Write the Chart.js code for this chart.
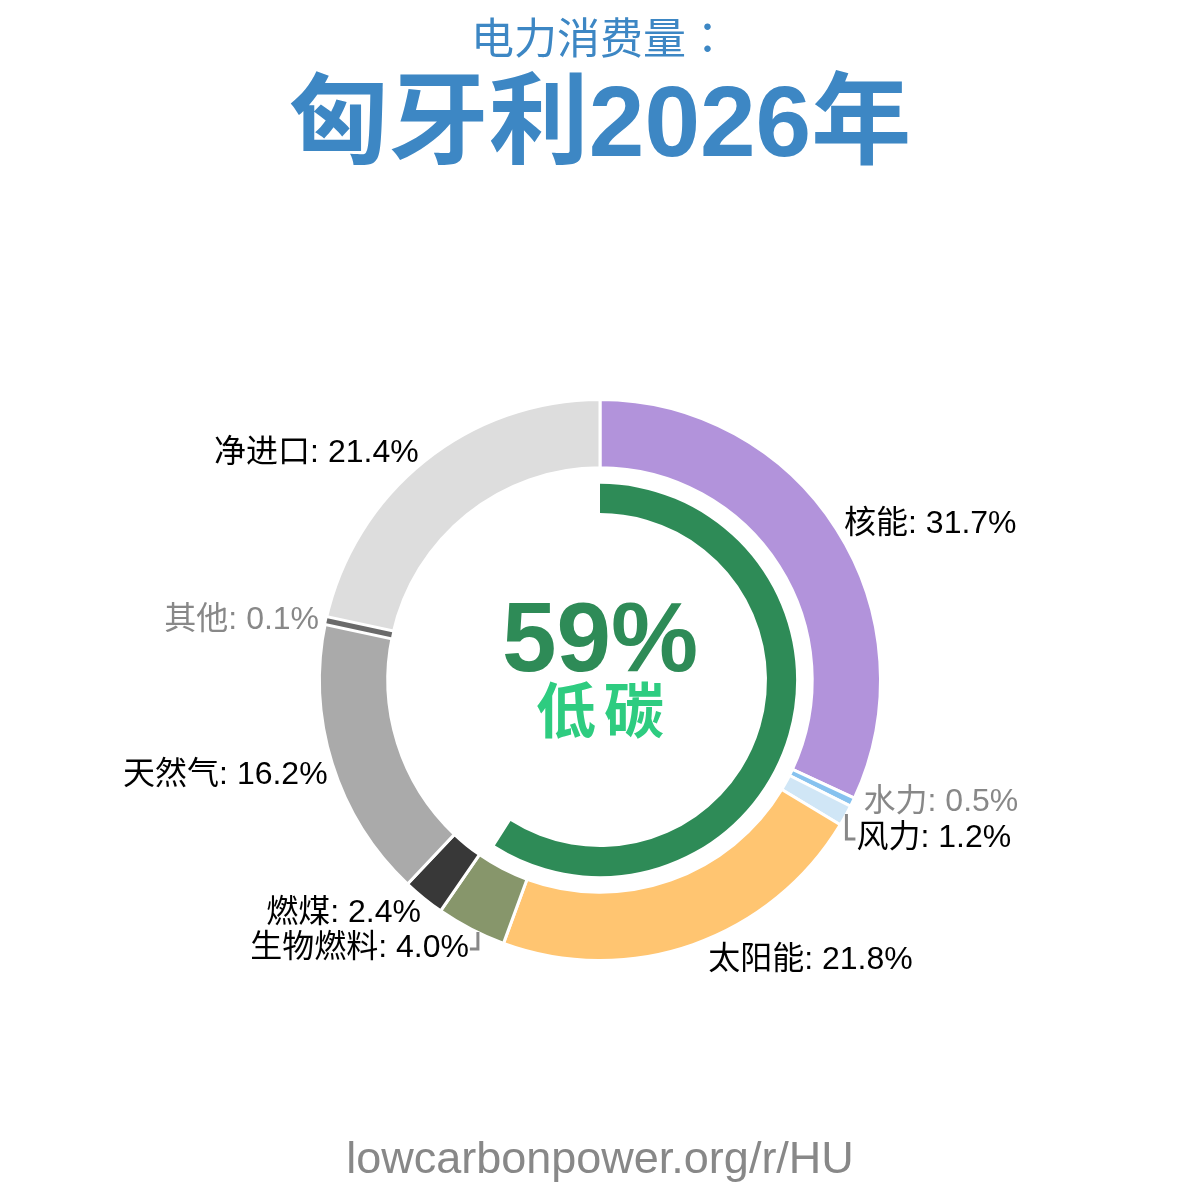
<!DOCTYPE html>
<html>
<head>
<meta charset="utf-8">
<script src="https://cdn.jsdelivr.net/npm/chart.js@4.4.1/dist/chart.umd.min.js"></script>
<style>
html,body{margin:0;padding:0;background:#fff;}
#wrap{width:1200px;height:1200px;position:relative;}
canvas{display:block;}
</style>
</head>
<body>
<div id="wrap"><canvas id="c" width="1200" height="1200"></canvas></div>
<script>
const categories = ['核能', '水力', '风力', '太阳能', '生物燃料', '燃煤', '天然气', '其他', '净进口'];
const shares = [31.7, 0.5, 1.2, 21.8, 4.0, 2.4, 16.2, 0.1, 21.4];
const sliceColors = ['#b293db', '#86c2ef', '#d0e6f6', '#ffc571', '#87966b', '#383838', '#aaaaaa', '#6a6a6a', '#dddddd'];
const lowCarbonShare = [59];
const titleSmall = '电力消费量';
const titleColon = '：';
const titleBig = '匈牙利2026年';
const centerLabel = '低碳';
const footerText = 'lowcarbonpower.org/r/HU';

const LAT = '"Liberation Sans", Arial, "Noto Sans CJK SC", sans-serif';
const CJKF = '"Noto Sans CJK SC", "Liberation Sans", sans-serif';
const CJKT = '"Noto Sans CJK TC", "Noto Sans CJK SC", sans-serif';
const labelNudgeY = [0, -4, 18, 7, 11, 8, 9, 2, -1];
const labelNudgeX = [0, 3, 3, 12, 2, 3, 4, 2, 0];
const labelBracket = [null, null, 'left', null, 'right', null, null, null, null];

const textPlugin = {
  id: 'texts',
  afterDatasetsDraw(chart) {
    const ctx = chart.ctx;
    const meta = chart.getDatasetMeta(0);
    ctx.save();
    // very thin slices get a minimum visible width (white gaps + coloured sliver)
    meta.data.forEach((arc, i) => {
      const mid = (arc.startAngle + arc.endAngle) / 2;
      const arcPx = (arc.endAngle - arc.startAngle) * arc.outerRadius;
      if (arcPx >= 3) return;
      const x0 = arc.x + Math.cos(mid) * (arc.innerRadius - 1), y0 = arc.y + Math.sin(mid) * (arc.innerRadius - 1);
      const x1 = arc.x + Math.cos(mid) * (arc.outerRadius + 1), y1 = arc.y + Math.sin(mid) * (arc.outerRadius + 1);
      ctx.lineCap = 'butt';
      ctx.strokeStyle = '#ffffff';
      ctx.lineWidth = 11;
      ctx.beginPath(); ctx.moveTo(x0, y0); ctx.lineTo(x1, y1); ctx.stroke();
      const x2 = arc.x + Math.cos(mid) * (arc.innerRadius + 1), y2 = arc.y + Math.sin(mid) * (arc.innerRadius + 1);
      const x3 = arc.x + Math.cos(mid) * (arc.outerRadius - 1), y3 = arc.y + Math.sin(mid) * (arc.outerRadius - 1);
      ctx.strokeStyle = sliceColors[i];
      ctx.lineWidth = 5;
      ctx.beginPath(); ctx.moveTo(x2, y2); ctx.lineTo(x3, y3); ctx.stroke();
    });
    ctx.textBaseline = 'middle';
    ctx.fillStyle = '#3d87c4';
    ctx.font = '43px ' + CJKF;
    const w1 = ctx.measureText(titleSmall).width;
    ctx.font = '43px ' + CJKT;
    const w2 = ctx.measureText(titleColon).width;
    const sx = 600 - (w1 + w2) / 2;
    ctx.textAlign = 'left';
    ctx.font = '43px ' + CJKF;
    ctx.fillText(titleSmall, sx, 38);
    ctx.font = '43px ' + CJKT;
    ctx.fillText(titleColon, sx + w1, 38);
    ctx.textAlign = 'center';
    ctx.font = 'bold 100px ' + LAT;
    ctx.fillText(titleBig, 600, 128);
    ctx.fillStyle = '#888888';
    ctx.font = '45px ' + LAT;
    ctx.fillText(footerText, 600, 1161);
    const arc0 = meta.data[0];
    const cx = arc0.x, cy = arc0.y;
    ctx.fillStyle = '#2e8b57';
    ctx.font = 'bold 98px ' + LAT;
    ctx.fillText(lowCarbonShare[0] + '%', cx, cy - 36);
    ctx.fillStyle = '#2ecc80';
    ctx.font = 'bold 60px ' + LAT;
    const chars = centerLabel.split('');
    ctx.fillText(chars[0], cx - 34, cy + 36);
    ctx.fillText(chars[1], cx + 34, cy + 36);
    ctx.font = '32px ' + LAT;
    meta.data.forEach((arc, i) => {
      const mid = (arc.startAngle + arc.endAngle) / 2;
      const r = arc.outerRadius + 9;
      const ax = cx + Math.cos(mid) * r + labelNudgeX[i];
      const ay = cy + Math.sin(mid) * r + labelNudgeY[i];
      const right = Math.cos(mid) >= 0;
      const text = categories[i] + ': ' + shares[i].toFixed(1) + '%';
      ctx.fillStyle = shares[i] < 1 ? '#888888' : '#000000';
      ctx.textAlign = right ? 'left' : 'right';
      ctx.textBaseline = 'middle';
      ctx.fillText(text, ax, ay);
      const w = ctx.measureText(text).width;
      ctx.strokeStyle = '#888888';
      ctx.lineWidth = 3;
      if (labelBracket[i] === 'left') {
        const bx = ax - 10;
        ctx.beginPath();
        ctx.moveTo(bx, ay - 24);
        ctx.lineTo(bx, ay + 1);
        ctx.lineTo(bx + 9, ay + 1);
        ctx.stroke();
      } else if (labelBracket[i] === 'right') {
        const ex = right ? ax + w : ax;
        const bx = ex + 9;
        ctx.beginPath();
        ctx.moveTo(bx, ay - 16);
        ctx.lineTo(bx, ay + 1);
        ctx.lineTo(bx - 8, ay + 1);
        ctx.stroke();
      }
    });
    ctx.restore();
  }
};

new Chart(document.getElementById('c'), {
  type: 'doughnut',
  data: {
    labels: categories,
    datasets: [
      { data: shares, backgroundColor: sliceColors, borderColor: '#ffffff', borderWidth: 3, weight: 68 },
      { data: [1], backgroundColor: ['rgba(0,0,0,0)'], borderWidth: 0, weight: 16 },
      { data: [lowCarbonShare[0], 100 - lowCarbonShare[0]], backgroundColor: ['#2e8b57', 'rgba(0,0,0,0)'], borderWidth: 0, weight: 29 }
    ]
  },
  options: {
    responsive: false,
    animation: false,
    cutout: 167,
    layout: { padding: { top: 398, bottom: 238, left: 318, right: 318 } },
    plugins: { legend: { display: false }, tooltip: { enabled: false }, title: { display: false } }
  },
  plugins: [textPlugin]
});
</script>
</body>
</html>
